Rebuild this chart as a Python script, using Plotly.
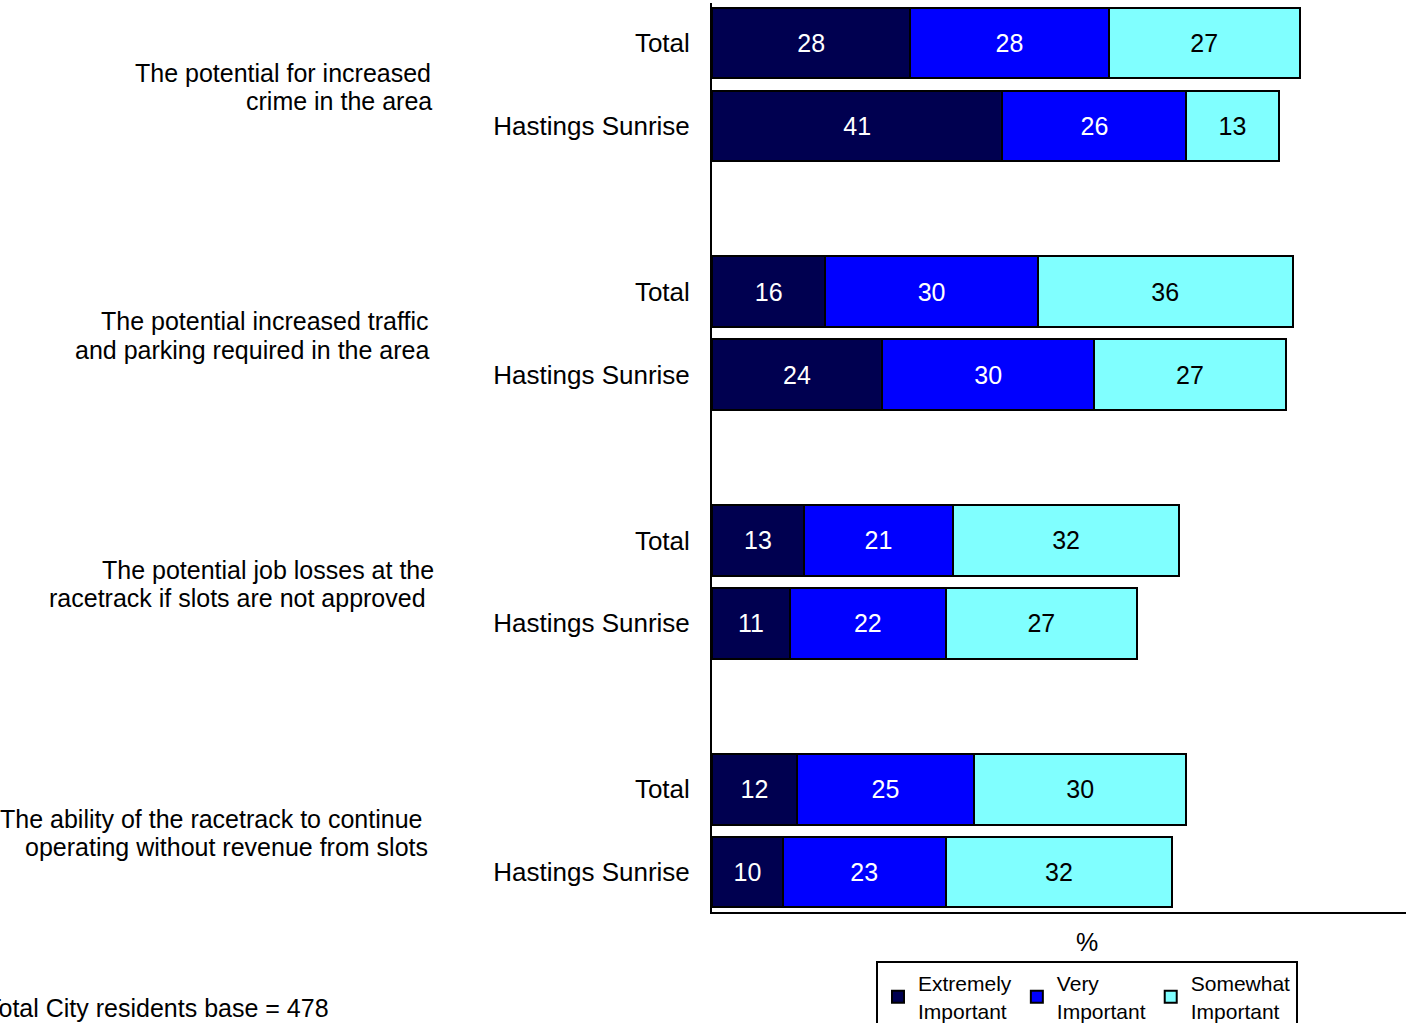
import plotly.graph_objects as go

groups = [
    ["The potential for increased", "crime in the area"],
    ["The potential increased traffic", "and parking required in the area"],
    ["The potential job losses at the", "racetrack if slots are not approved"],
    ["The ability of the racetrack to continue", "operating without revenue from slots"],
]
rows = ["Total", "Hastings Sunrise"]
series_names = ["Extremely<br>Important", "Very<br>Important", "Somewhat<br>Important"]
colors = ["#000050", "#0000FF", "#80FFFF"]
text_colors = ["white", "white", "black"]

# values per group: [Total, Hastings Sunrise]
extremely = [[28, 41], [16, 24], [13, 11], [12, 10]]
very = [[28, 26], [30, 30], [21, 22], [25, 23]]
somewhat = [[27, 13], [36, 27], [32, 27], [30, 32]]
series_values = [extremely, very, somewhat]

# right edge (px) of each group-label line, as laid out in the original
label_right_px = [[430, 431], [428, 429], [433, 425], [421, 427]]

ypos = []
ylabels = []
for g in range(len(groups)):
    for r in range(len(rows)):
        ypos.append(g * 3 + r)
        ylabels.append(rows[r])

fig = go.Figure()
for name, vals, col, tc in zip(series_names, series_values, colors, text_colors):
    flat = [v for pair in vals for v in pair]
    fig.add_trace(go.Bar(
        x=flat, y=ypos, orientation="h", name=name,
        marker=dict(color=col, line=dict(color="black", width=2)),
        width=0.85,
        text=[str(v) for v in flat], textposition="inside",
        insidetextanchor="middle", textangle=0,
        textfont=dict(color=tc, size=25, family="Liberation Sans, Arial"),
    ))

W, H = 1406, 1023
L, R, T, B = 712, 0, 3, 111
pw = W - L - R
ph = H - T - B

def px_x(px):
    return (px - L) / pw

def px_y(py):
    return (H - B - py) / ph

annotations = []
for g, lines in enumerate(groups):
    for i, line in enumerate(lines):
        annotations.append(dict(
            x=px_x(label_right_px[g][i] + 3), xref="paper",
            y=g * 3 + 0.36 + i * 0.34, yref="y",
            text=line, showarrow=False, xanchor="right", yanchor="middle",
            align="right", font=dict(size=25, color="black"),
        ))
annotations.append(dict(
    x=px_x(1087), xref="paper", y=px_y(942), yref="paper", text="%",
    showarrow=False, xanchor="center", yanchor="middle",
    font=dict(size=25, color="black"),
))
annotations.append(dict(
    x=px_x(331), xref="paper", y=px_y(1008), yref="paper",
    text="Total City residents base = 478", showarrow=False,
    xanchor="right", yanchor="middle", font=dict(size=25, color="black"),
))

fig.update_layout(
    width=W, height=H,
    margin=dict(l=L, r=R, t=T, b=B, pad=0, autoexpand=False),
    barmode="stack",
    plot_bgcolor="white", paper_bgcolor="white",
    font=dict(family="Liberation Sans, Arial", size=25, color="black"),
    showlegend=True,
    legend=dict(
        orientation="h", x=px_x(876), xanchor="left",
        y=px_y(961), yanchor="top",
        bordercolor="black", borderwidth=2, bgcolor="white",
        font=dict(size=21, color="black"),
        traceorder="normal", itemwidth=30,
        tracegroupgap=0,
    ),
    xaxis=dict(range=[0, 98], showticklabels=False, ticks="", showgrid=False,
               zeroline=False, showline=True, linecolor="black", linewidth=2),
    yaxis=dict(range=[10.48, -0.48], tickmode="array", tickvals=ypos,
               ticktext=ylabels, ticks="", showgrid=False, zeroline=False,
               showline=True, linecolor="black", linewidth=2,
               ticklabelstandoff=15, tickfont=dict(size=26)),
    annotations=annotations,
    uniformtext=dict(mode="show", minsize=25),
)

fig.write_html("out.html")
